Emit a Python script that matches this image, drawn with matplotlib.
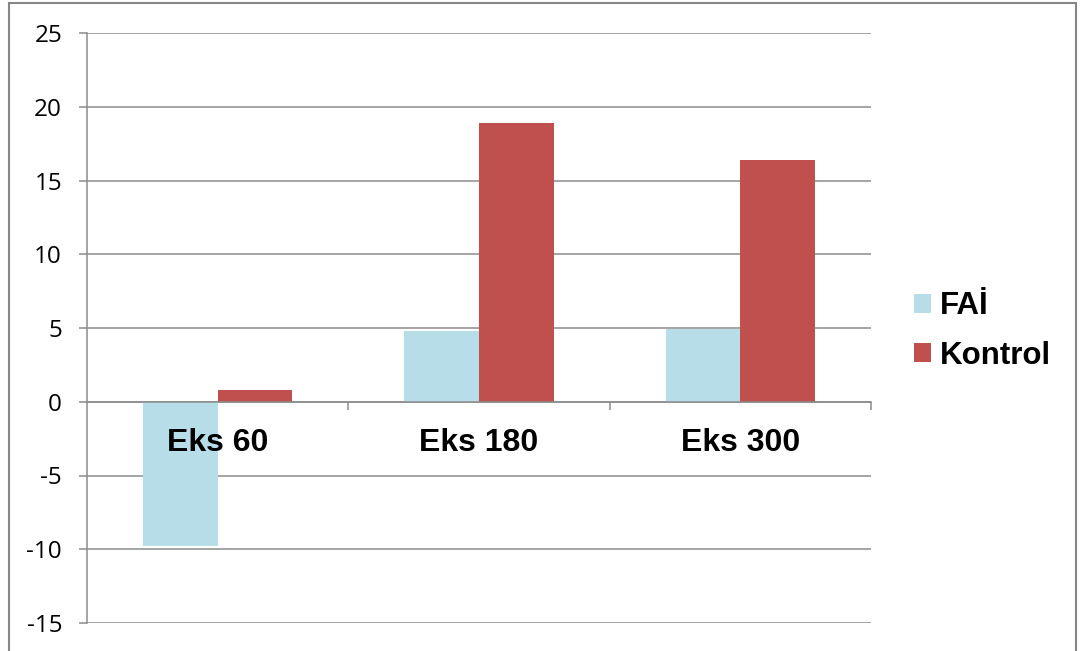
import matplotlib
matplotlib.use("Agg")
import matplotlib.pyplot as plt
import numpy as np
from matplotlib.patches import Rectangle

# chart data
categories = ["Eks 60", "Eks 180", "Eks 300"]
fai = [-9.8, 4.8, 4.9]
kontrol = [0.8, 18.9, 16.4]
series_names = ["FAİ", "Kontrol"]
y_ticks = [-15, -10, -5, 0, 5, 10, 15, 20, 25]

GRID = "#8c8c8c"
FAI_COLOR = "#b7dde8"
KONTROL_COLOR = "#c0504d"

fig = plt.figure(figsize=(10.8, 6.51), dpi=100)
ax = fig.add_axes([87 / 1080, 1 - 623 / 651, (871 - 87) / 1080, (623 - 33) / 651])

x = np.arange(len(categories))
w = 1 / 3.5  # excel gap width 150%
ax.bar(x - w / 2, fai, w, color=FAI_COLOR, label=series_names[0], zorder=2)
ax.bar(x + w / 2, kontrol, w, color=KONTROL_COLOR, label=series_names[1], zorder=2)

ax.set_xlim(-0.5, len(categories) - 0.5)
ax.set_ylim(y_ticks[0], y_ticks[-1])
ax.set_yticks(y_ticks)
ax.set_yticklabels([str(v) for v in y_ticks], fontfamily="Open Sans", fontsize=17.5)
ax.yaxis.grid(True, color=GRID, linewidth=1.1)
ax.yaxis.set_zorder(1)
ax.tick_params(axis="y", direction="out", length=6, width=1.1, color=GRID, pad=12)

# category axis sits on zero
for s in ["top", "right"]:
    ax.spines[s].set_visible(False)
ax.spines["left"].set_color(GRID)
ax.spines["left"].set_linewidth(1.1)
ax.spines["bottom"].set_position(("data", 0))
ax.spines["bottom"].set_color(GRID)
ax.spines["bottom"].set_linewidth(1.1)
ax.spines["bottom"].set_zorder(4)

ax.set_xticks(x)
ax.set_xticklabels(categories, fontfamily="Liberation Sans", fontweight="bold", fontsize=23)
ax.set_xticks(list(x[:-1] + 0.5) + [len(categories) - 0.5], minor=True)
ax.tick_params(axis="x", which="major", length=0, pad=19)
ax.tick_params(axis="x", which="minor", direction="out", length=6, width=1.1, color=GRID)
ax.xaxis.set_zorder(5)

leg = ax.legend(loc="center left", bbox_to_anchor=(901 / 1080, 1 - 331 / 651),
                bbox_transform=fig.transFigure, frameon=False,
                prop={"family": "Liberation Sans", "weight": "bold", "size": 22.5},
                handlelength=0.55, handleheight=0.55, handletextpad=0.3,
                labelspacing=0.62, borderaxespad=0)

# outer chart border
fig.add_artist(Rectangle((9 / 1080, -0.02), (1076 - 9) / 1080, 1.02 - 3 / 651,
                         transform=fig.transFigure, fill=False,
                         edgecolor="#868686", linewidth=1.5))

fig.savefig("out.png", dpi=100)
